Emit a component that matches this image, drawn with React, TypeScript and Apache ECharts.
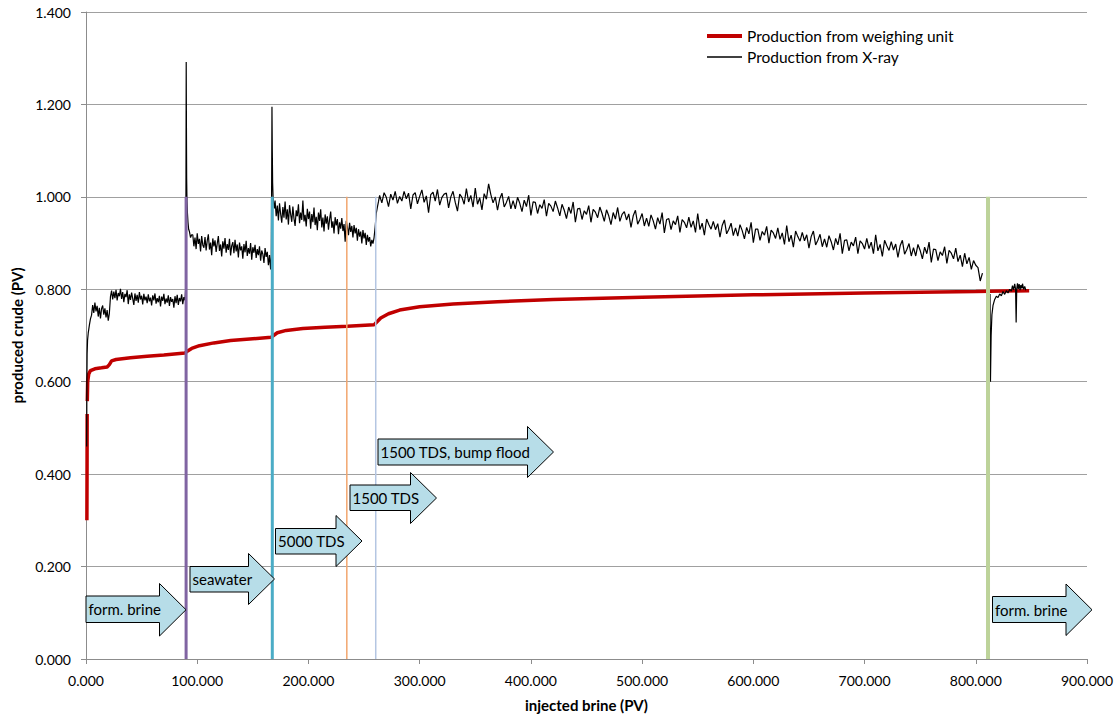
import { useEffect, useRef } from "react";
import * as echarts from "echarts";

// ---------- DATA ----------
const X_TICK_MIN = 0;
const X_TICK_MAX = 900;
const X_TICK_STEP = 100;
const Y_TICK_MIN = 0;
const Y_TICK_MAX = 1.4;
const Y_TICK_STEP = 0.2;

const seriesWeighing = "Production from weighing unit";
const seriesXray = "Production from X-ray";

// weighing unit production [PV injected, PV produced]
const weighingData: [number, number | string][] = [
  [0.8, 0.3], [0.95, 0.42], [1.05, 0.53], [1.1, "-"], [1.15, 0.558], [1.5, 0.6], [2.5, 0.617],
  [4, 0.624], [8, 0.628], [14, 0.63], [19, 0.632], [21, 0.637], [23, 0.645], [27, 0.648],
  [40, 0.652], [55, 0.655], [70, 0.658], [89, 0.662], [91, 0.666], [95, 0.672], [102, 0.678],
  [115, 0.684], [130, 0.689], [150, 0.693], [166.5, 0.696], [168, 0.699], [172, 0.706],
  [180, 0.711], [195, 0.715], [215, 0.718], [235, 0.72], [259, 0.723], [261, 0.728],
  [265, 0.738], [272, 0.747], [282, 0.755], [300, 0.762], [330, 0.768], [370, 0.773],
  [420, 0.778], [500, 0.783], [600, 0.788], [700, 0.792], [800, 0.795], [848, 0.797],
];

// X-ray production: initial rise
const xrayStart: [number, number][] = [
  [0.6, 0.46], [0.8, 0.6], [1.0, 0.66], [1.4, 0.69], [2, 0.705], [3, 0.722], [4, 0.736],
];
// formation brine plateau, one reading per PV from 5 PV
const xrayFormBrineStart = 5;
const xrayFormBrine = [
  0.744, 0.766, 0.749, 0.771, 0.752, 0.764, 0.741, 0.76, 0.737, 0.758,
  0.765, 0.745, 0.759, 0.739, 0.755, 0.732, 0.748, 0.784, 0.797, 0.778,
  0.795, 0.781, 0.799, 0.776, 0.792, 0.785, 0.801, 0.779, 0.794, 0.772,
  0.79, 0.783, 0.798, 0.768, 0.789, 0.777, 0.793, 0.78, 0.766, 0.791,
  0.775, 0.788, 0.771, 0.794, 0.778, 0.786, 0.767, 0.79, 0.776, 0.784,
  0.77, 0.789, 0.774, 0.782, 0.765, 0.787, 0.776, 0.791, 0.769, 0.781,
  0.772, 0.786, 0.763, 0.784, 0.775, 0.79, 0.768, 0.78, 0.771, 0.787,
  0.764, 0.783, 0.773, 0.779, 0.76, 0.785, 0.77, 0.788, 0.766, 0.781,
  0.774, 0.789, 0.768, 0.783, 0.776,
];
// seawater injection spike
const xraySpikeSeawater: [number, number][] = [
  [89.6, 0.8], [89.9, 1.05], [90.1, 1.292], [90.3, 1.15], [90.5, 1.04], [90.8, 0.99],
  [91.2, 0.965], [91.7, 0.945], [92.3, 0.93], [93, 0.925], [94, 0.912], [95, 0.918],
];
const xraySeawaterStart = 96;
const xraySeawater = [
  0.918, 0.893, 0.912, 0.887, 0.921, 0.898, 0.909, 0.882, 0.915, 0.896,
  0.89, 0.913, 0.884, 0.905, 0.919, 0.886, 0.901, 0.874, 0.91, 0.893,
  0.906, 0.881, 0.899, 0.915, 0.883, 0.897, 0.871, 0.904, 0.888, 0.911,
  0.879, 0.898, 0.885, 0.909, 0.873, 0.894, 0.902, 0.878, 0.907, 0.882,
  0.897, 0.869, 0.901, 0.884, 0.893, 0.866, 0.898, 0.88, 0.905, 0.872,
  0.889, 0.877, 0.9, 0.864, 0.891, 0.879, 0.896, 0.868, 0.887, 0.874,
  0.893, 0.862, 0.884, 0.876, 0.857, 0.889, 0.87, 0.881, 0.852, 0.874,
  0.843,
];
// 5000 TDS spike
const xraySpike5000: [number, number][] = [
  [166.6, 0.87], [166.9, 1.02], [167.2, 1.195], [167.5, 1.1], [167.8, 1.03], [168.2, 1.0],
  [168.8, 0.985], [169.5, 0.975],
];
const xray5000Start = 170;
const xray5000 = [
  0.992, 0.958, 0.981, 0.949, 0.986, 0.963, 0.944, 0.978, 0.955, 0.99,
  0.951, 0.973, 0.94, 0.982, 0.962, 0.946, 0.979, 0.953, 0.937, 0.971,
  0.958, 0.984, 0.943, 0.966, 0.95, 0.992, 0.947, 0.961, 0.936, 0.974,
  0.952, 0.968, 0.931, 0.963, 0.945, 0.977, 0.939, 0.957, 0.928, 0.966,
  0.948, 0.973, 0.934, 0.955, 0.925, 0.962, 0.942, 0.958, 0.929, 0.951,
  0.968, 0.933, 0.947, 0.921, 0.956, 0.938, 0.952, 0.919, 0.945, 0.931,
  0.954, 0.926, 0.941, 0.903, 0.948, 0.935, 0.917, 0.944, 0.924, 0.937,
  0.912, 0.939, 0.921, 0.933, 0.905, 0.93, 0.914, 0.925, 0.899, 0.928,
  0.91, 0.922, 0.896, 0.918, 0.903, 0.913, 0.893, 0.907, 0.899, 0.912,
];
const xrayRise1500: [number, number][] = [
  [260, 0.935], [261, 0.965], [262, 0.978], [263, 0.99],
];
// 1500 TDS, one reading every 2 PV from 264 PV
const xray1500Start = 264;
const xray1500Step = 2;
const xray1500 = [
  1.003, 0.987, 1.009, 0.999, 0.979, 1.006, 0.993, 1.012, 0.986, 1.001,
  0.991, 1.012, 0.996, 1.008, 0.974, 1.004, 1.009, 0.985, 1.001, 1.015,
  0.988, 1.002, 0.966, 1.005, 1.01, 0.991, 1.016, 0.982, 0.999, 1.006,
  1.008, 0.976, 1.0, 1.012, 0.988, 0.969, 1.006, 0.999, 0.984, 1.018,
  0.989, 1.003, 0.978, 1.019, 0.984, 0.998, 0.972, 1.007, 0.995, 1.028,
  1.005, 0.987, 1.0, 0.971, 0.996, 1.008, 0.978, 0.988, 1.001, 0.974,
  0.992, 0.974, 0.999, 0.986, 0.968, 0.993, 0.979, 1.004, 0.96, 0.989,
  0.988, 0.964, 0.983, 0.975, 0.994, 0.958, 0.986, 0.98, 0.968, 0.991,
  0.976, 0.959, 0.984, 0.971, 0.953, 0.978, 0.964, 0.989, 0.945, 0.974,
  0.975, 0.951, 0.97, 0.962, 0.981, 0.945, 0.973, 0.967, 0.955, 0.978,
  0.964, 0.947, 0.972, 0.959, 0.94, 0.966, 0.952, 0.977, 0.947, 0.962,
  0.968, 0.95, 0.963, 0.934, 0.959, 0.971, 0.941, 0.951, 0.964, 0.937,
  0.954, 0.936, 0.961, 0.948, 0.93, 0.955, 0.941, 0.966, 0.922, 0.951,
  0.953, 0.929, 0.948, 0.94, 0.959, 0.923, 0.951, 0.945, 0.933, 0.956,
  0.934, 0.948, 0.923, 0.964, 0.929, 0.943, 0.917, 0.952, 0.94, 0.93,
  0.947, 0.929, 0.942, 0.913, 0.938, 0.95, 0.92, 0.93, 0.943, 0.916,
  0.933, 0.915, 0.94, 0.927, 0.909, 0.934, 0.92, 0.945, 0.901, 0.93,
  0.93, 0.906, 0.925, 0.917, 0.936, 0.9, 0.928, 0.922, 0.91, 0.933,
  0.908, 0.922, 0.897, 0.938, 0.903, 0.917, 0.891, 0.926, 0.914, 0.904,
  0.923, 0.905, 0.918, 0.889, 0.914, 0.926, 0.896, 0.906, 0.919, 0.892,
  0.909, 0.891, 0.916, 0.903, 0.885, 0.91, 0.896, 0.921, 0.877, 0.906,
  0.907, 0.883, 0.902, 0.894, 0.913, 0.877, 0.905, 0.899, 0.887, 0.91,
  0.888, 0.902, 0.877, 0.918, 0.883, 0.897, 0.871, 0.906, 0.894, 0.884,
  0.903, 0.885, 0.898, 0.869, 0.894, 0.906, 0.876, 0.886, 0.899, 0.872,
  0.89, 0.872, 0.897, 0.884, 0.866, 0.891, 0.877, 0.902, 0.858, 0.887,
  0.886, 0.862, 0.881, 0.873, 0.892, 0.856, 0.884, 0.878, 0.866, 0.889,
  0.86, 0.874, 0.849, 0.878, 0.855, 0.869, 0.843, 0.862, 0.852, 0.847,
  0.818, 0.835,
];
// back to formation brine
const xrayFormBrineEnd: [number, number][] = [
  [812.8, 0.79], [813.2, 0.6], [813.8, 0.7], [814.5, 0.745], [815.5, 0.765], [817, 0.778],
  [818.5, 0.785], [820, 0.782], [821.5, 0.79], [823, 0.786], [824.5, 0.795], [826, 0.789],
  [827.5, 0.797], [829, 0.792], [830.5, 0.8], [832, 0.796], [833, 0.808], [834, 0.799],
  [835, 0.812], [835.8, 0.8], [836.3, 0.728], [836.8, 0.8], [837.5, 0.813], [838.2, 0.801],
  [839, 0.811], [839.8, 0.798], [840.5, 0.809], [841.3, 0.802], [842, 0.812], [843, 0.8],
  [844, 0.806], [845, 0.798],
];

// brine switch markers: PV injected where brine was changed
const switchNames = ["seawater start", "5000 TDS start", "1500 TDS start", "bump flood start", "form. brine start"];
const switchPV = [90, 167.5, 234.5, 260.5, 811];
const switchTop = [1.0, 1.0, 1.0, 1.0, 1.0];

// arrow annotation labels
const arrowLabels = ["form. brine", "seawater", "5000 TDS", "1500 TDS", "1500 TDS, bump flood", "form. brine"];

// ---------- STYLE / LAYOUT ----------
const FONT = "Lato, 'Open Sans', sans-serif";
const switchColors = ["#8064A2", "#4BACC6", "#F2A66E", "#B4C6E2", "#BDD39A"];
const switchWidths = [3, 3, 1.5, 1.5, 4];

// arrow geometry in pixels: left, bodyTop, bodyBottom, headX, headTop, headBottom, tipX
const arrowGeom = [
  [86, 596, 622.5, 159.5, 583.5, 636, 186],
  [190, 566.5, 592, 248.5, 553.5, 604.5, 274.5],
  [275.5, 528.5, 554, 336, 515.5, 566.5, 362],
  [350, 485, 510.5, 410.5, 472.5, 523.5, 436.5],
  [378, 439, 465, 527.5, 426.5, 477.5, 553.5],
  [992.5, 596.5, 622.5, 1066, 584, 635.5, 1092],
];

function seg(x0: number, dx: number, ys: number[]): [number, number][] {
  return ys.map((y, i) => [x0 + i * dx, y]);
}

function buildOption() {
  const xrayData: [number, number | string][] = [
    ...xrayStart,
    ...seg(xrayFormBrineStart, 1, xrayFormBrine),
    ...xraySpikeSeawater,
    ...seg(xraySeawaterStart, 1, xraySeawater),
    ...xraySpike5000,
    ...seg(xray5000Start, 1, xray5000),
    ...xrayRise1500,
    ...seg(xray1500Start, xray1500Step, xray1500),
    [810, "-"],
    ...xrayFormBrineEnd,
  ];

  const switchSeries = switchPV.map((pv, i) => ({
    name: switchNames[i],
    type: "line",
    data: [
      [pv, 0],
      [pv, switchTop[i]],
    ],
    symbol: "none",
    silent: true,
    lineStyle: { color: switchColors[i], width: switchWidths[i] },
    z: 4,
  }));

  const graphics: any[] = [];
  arrowGeom.forEach((g, i) => {
    const [l, bt, bb, hx, ht, hb, tx] = g;
    const ty = (ht + hb) / 2;
    graphics.push({
      type: "polygon",
      z: 100,
      shape: {
        points: [
          [l, bt],
          [hx, bt],
          [hx, ht],
          [tx, ty],
          [hx, hb],
          [hx, bb],
          [l, bb],
        ],
      },
      style: { fill: "#B7DDE8", stroke: "#000", lineWidth: 1 },
    });
    graphics.push({
      type: "text",
      z: 101,
      x: l + 2.5,
      y: (bt + bb) / 2,
      style: {
        text: arrowLabels[i],
        font: `15px ${FONT}`,
        fill: "#000",
        verticalAlign: "middle",
        align: "left",
      },
    });
  });

  const legendText = { fontFamily: FONT, fontSize: 15.5, color: "#000" };

  return {
    animation: false,
    backgroundColor: "#fff",
    textStyle: { fontFamily: FONT },
    grid: { left: 86, right: 33, top: 12, bottom: 57, containLabel: false },
    legend: [
      {
        data: [seriesWeighing],
        left: 707,
        top: 28,
        padding: 0,
        icon: "rect",
        itemWidth: 35,
        itemHeight: 4,
        textStyle: legendText,
        selectedMode: false,
      },
      {
        data: [seriesXray],
        left: 707,
        top: 49,
        padding: 0,
        icon: "rect",
        itemWidth: 35,
        itemHeight: 1.3,
        textStyle: legendText,
        selectedMode: false,
      },
    ],
    xAxis: {
      type: "value",
      min: X_TICK_MIN,
      max: X_TICK_MAX,
      interval: X_TICK_STEP,
      name: "injected brine (PV)",
      nameLocation: "middle",
      nameGap: 38,
      nameTextStyle: { fontFamily: FONT, fontSize: 15, fontWeight: "bold", color: "#000" },
      axisLine: { show: true, lineStyle: { color: "#8c8c8c", width: 1 } },
      axisTick: { show: true, length: 5, lineStyle: { color: "#8c8c8c" } },
      axisLabel: {
        fontFamily: FONT,
        fontSize: 14,
        color: "#000",
        margin: 14,
        formatter: (v: number) => v.toFixed(3),
      },
      splitLine: { show: false },
    },
    yAxis: {
      type: "value",
      min: Y_TICK_MIN,
      max: Y_TICK_MAX,
      interval: Y_TICK_STEP,
      name: "produced crude (PV)",
      nameLocation: "middle",
      nameGap: 58,
      nameTextStyle: { fontFamily: FONT, fontSize: 15, fontWeight: "bold", color: "#000" },
      axisLine: { show: true, lineStyle: { color: "#8c8c8c", width: 1 } },
      axisTick: { show: true, length: 5, lineStyle: { color: "#8c8c8c" } },
      axisLabel: {
        fontFamily: FONT,
        fontSize: 14,
        color: "#000",
        margin: 15,
        formatter: (v: number) => v.toFixed(3),
      },
      splitLine: { show: true, lineStyle: { color: "#a0a0a0", width: 1 } },
    },
    series: [
      {
        name: seriesWeighing,
        type: "line",
        data: weighingData,
        symbol: "none",
        showSymbol: false,
        lineStyle: { color: "#C00000", width: 3.5 },
        itemStyle: { color: "#C00000" },
        z: 2,
      },
      {
        name: seriesXray,
        type: "line",
        data: xrayData,
        symbol: "none",
        showSymbol: false,
        lineStyle: { color: "#000", width: 1.2 },
        itemStyle: { color: "#000" },
        z: 3,
      },
      ...switchSeries,
    ],
    graphic: graphics,
  };
}

export default function App() {
  const ref = useRef<HTMLDivElement>(null);
  useEffect(() => {
    if (!ref.current) return;
    const chart = echarts.init(ref.current, null, { renderer: "svg" });
    chart.setOption(buildOption() as any);
    return () => chart.dispose();
  }, []);
  return (
    <div
      ref={ref}
      style={{ position: "fixed", left: 0, top: 0, width: 1120, height: 717, background: "#fff" }}
    />
  );
}
